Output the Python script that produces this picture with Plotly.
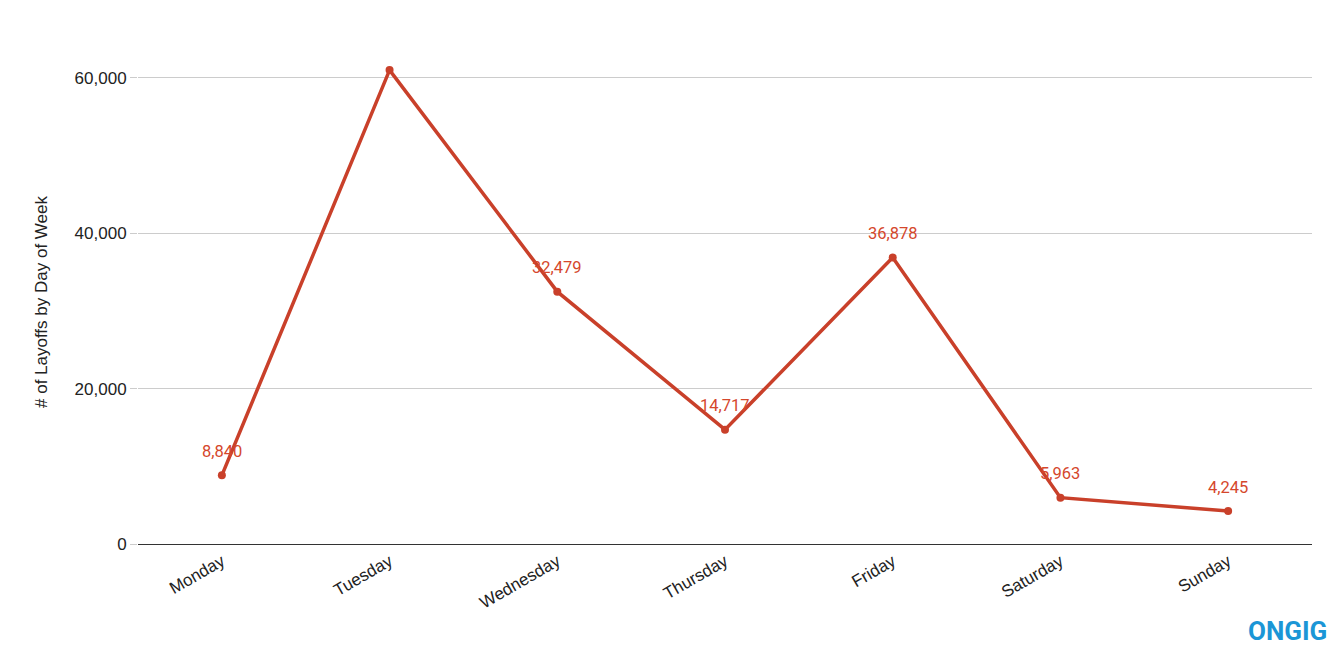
import plotly.graph_objects as go

days = ["Monday", "Tuesday", "Wednesday", "Thursday", "Friday", "Saturday", "Sunday"]
layoffs = [8840, 61000, 32479, 14717, 36878, 5963, 4245]
show_label = [True, False, True, True, True, True, True]

line_color = "#c9402a"
label_color = "#d5472c"
axis_font = "Liberation Sans"

fig = go.Figure()
fig.add_trace(go.Scatter(
    x=days, y=layoffs, mode="lines+markers",
    line=dict(color=line_color, width=3.5),
    marker=dict(color=line_color, size=8),
    hoverinfo="x+y", showlegend=False,
))

for d, v, s in zip(days, layoffs, show_label):
    if s:
        fig.add_annotation(x=d, y=v, text=f"{v:,}", showarrow=False, yshift=24,
                           font=dict(family="Roboto", size=16.5, color=label_color))

fig.add_annotation(xref="paper", yref="paper", x=1.0145, y=-0.18, xanchor="right", yanchor="middle",
                   text="<b>ONGIG</b>", showarrow=False,
                   font=dict(family="Roboto", size=26, color="#1b96d6"))

fig.update_layout(
    width=1342, height=656,
    margin=dict(l=130, r=38, t=52, b=120),
    paper_bgcolor="white", plot_bgcolor="white",
    font=dict(family=axis_font, size=17, color="#222"),
    xaxis=dict(type="category", range=[-0.5, 6.5], tickangle=-30, showgrid=False,
               showline=True, linecolor="#333", linewidth=1, ticks="",
               tickfont=dict(family=axis_font, size=17, color="#222")),
    yaxis=dict(range=[0, 62300], tickvals=[0, 20000, 40000, 60000],
               ticktext=["0", "20,000", "40,000", "60,000"],
               showgrid=True, gridcolor="#cccccc", gridwidth=1,
               zeroline=True, zerolinecolor="#333", zerolinewidth=1,
               ticks="outside", ticklen=7, tickcolor="#cccccc",
               title=dict(text="# of Layoffs by Day of Week",
                          font=dict(family=axis_font, size=17, color="#222"), standoff=22),
               tickfont=dict(family=axis_font, size=17, color="#222")),
)

fig.write_html("out.html")
